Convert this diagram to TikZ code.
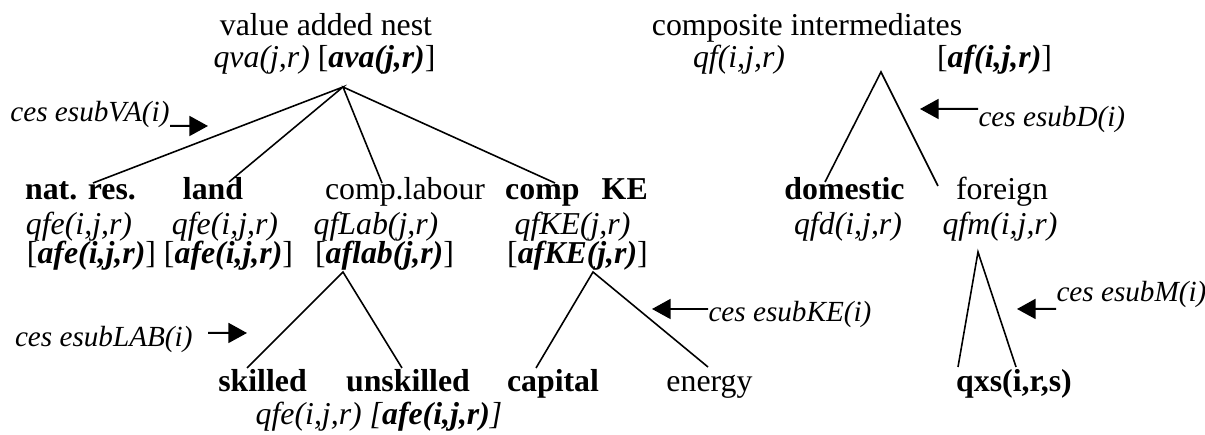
\documentclass[tikz,border=0pt]{standalone}
\usepackage{fontspec}
\setmainfont{Liberation Serif}
\usetikzlibrary{arrows.meta}

\newcommand{\bfit}[1]{\textbf{\textit{#1}}}

\tikzset{
  lbl/.style={anchor=base, inner sep=0pt, font=\fontsize{12}{14}\selectfont},
  boldlbl/.style={lbl, font=\fontsize{12}{14}\selectfont\bfseries},
  itlbl/.style={lbl, font=\fontsize{12}{14}\selectfont\itshape},
  ceslbl/.style={lbl, font=\fontsize{11}{13}\selectfont\itshape},
  branch/.style={line width=0.6pt},
  cesarrow/.style={-{Triangle[length=7pt,width=7.5pt]}, line width=0.75pt},
}

\begin{document}
\begin{tikzpicture}[x=0.377pt, y=-0.377pt]
  \useasboundingbox (0,0) rectangle (1205,435);
  % value added nest
  \node[lbl] (vatitle) at (326,36) {value added nest};
  \node[lbl] (vaqty) at (324.5,68) {\textit{qva(j,r)} [\bfit{ava(j,r)}]};
  \node[boldlbl] (natres) at (80.5,200) {nat. res.};
  \node[boldlbl] (land) at (213,200) {land};
  \node[lbl] (complab) at (405,200) {comp.labour};
  \node[boldlbl] (compke) at (576.5,200) {comp\hspace{0.7em}KE};
  \node[itlbl] (natresq) at (79,235) {qfe(i,j,r)};
  \node[itlbl] (landq) at (225,235) {qfe(i,j,r)};
  \node[itlbl] (complabq) at (376,235) {qfLab(j,r)};
  \node[itlbl] (compkeq) at (572.5,235) {qfKE(j,r)};
  \node[lbl] (natresa) at (91.5,264) {[\bfit{afe(i,j,r)}]};
  \node[lbl] (landa) at (228.5,264) {[\bfit{afe(i,j,r)}]};
  \node[lbl] (complaba) at (384.5,264) {[\bfit{aflab(j,r)}]};
  \node[lbl] (compkea) at (577.5,264) {[\bfit{afKE(j,r)}]};
  \node[boldlbl] (skilled) at (262.5,392) {skilled};
  \node[boldlbl] (unskilled) at (408,392) {unskilled};
  \node[itlbl] (skillq) at (379,425) {qfe(i,j,r) [\textbf{afe(i,j,r)}]};
  \node[boldlbl] (capital) at (553,392) {capital};
  \node[lbl] (energy) at (709.5,392) {energy};
  % composite intermediates
  \node[lbl] (cititle) at (807,36) {composite intermediates};
  \node[itlbl] (ciq) at (739,68) {qf(i,j,r)};
  \node[lbl] (cia) at (994.5,68) {[\bfit{af(i,j,r)}]};
  \node[boldlbl] (domestic) at (844.5,200) {domestic};
  \node[lbl] (foreign) at (1002,200) {foreign};
  \node[itlbl] (domq) at (848,235) {qfd(i,j,r)};
  \node[itlbl] (forq) at (1000,235) {qfm(i,j,r)};
  \node[boldlbl] (qxs) at (1014,392) {qxs(i,r,s)};
  % elasticities
  \node[ceslbl, anchor=base east] (cesva) at (170,122) {ces esubVA(i)};
  \node[ceslbl, anchor=base west] (cesd) at (978,127) {ces esubD(i)};
  \node[ceslbl, anchor=base east] (ceslab) at (193,347) {ces esubLAB(i)};
  \node[ceslbl, anchor=base west] (ceske) at (708,322) {ces esubKE(i)};
  \node[ceslbl, anchor=base west] (cesm) at (1056,302) {ces esubM(i)};
  % branch points
  \coordinate (vaapex) at (343,87);
  \coordinate (ciapex) at (881,72);
  \coordinate (labapex) at (343,272);
  \coordinate (keapex) at (593,272);
  \coordinate (forapex) at (978,252);
  \coordinate (natrestop) at (93,183);
  \coordinate (landtop) at (229,182);
  \coordinate (complabtop) at (382,183);
  \coordinate (compketop) at (555,183);
  \coordinate (domtop) at (825,182);
  \coordinate (fortop) at (938,186);
  \coordinate (skilledtop) at (247,368);
  \coordinate (unskilledtop) at (402,368);
  \coordinate (capitaltop) at (536,368);
  \coordinate (energytop) at (708,367);
  \coordinate (qxsleft) at (958,367);
  \coordinate (qxsright) at (1016,367);
  \draw[branch] (natrestop) -- (vaapex) -- (landtop);
  \draw[branch] (complabtop) -- (vaapex) -- (compketop);
  \draw[branch] (domtop) -- (ciapex) -- (fortop);
  \draw[branch] (skilledtop) -- (labapex) -- (unskilledtop);
  \draw[branch] (capitaltop) -- (keapex) -- (energytop);
  \draw[branch] (qxsleft) -- (forapex) -- (qxsright);
  % arrows
  \coordinate (vatip) at (208,126);
  \coordinate (citip) at (920,109);
  \coordinate (labtip) at (247,333);
  \coordinate (ketip) at (652,309);
  \coordinate (mtip) at (1017,309);
  \draw[cesarrow] ([yshift=-1.5pt]cesva.base east) -- (vatip);
  \draw[cesarrow] ([yshift=6.8pt]cesd.base west) -- (citip);
  \draw[cesarrow] ([xshift=5.7pt,yshift=5.3pt]ceslab.base east) -- (labtip);
  \draw[cesarrow] ([yshift=4.9pt]ceske.base west) -- (ketip);
  \draw[cesarrow] ([yshift=-2.6pt]cesm.base west) -- (mtip);
\end{tikzpicture}
\end{document}
